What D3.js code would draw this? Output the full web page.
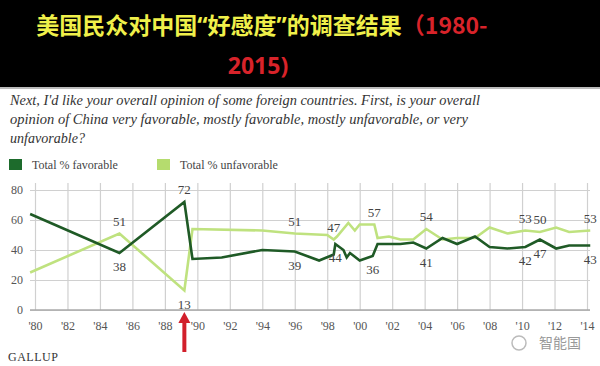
<!DOCTYPE html>
<html>
<head>
<meta charset="utf-8">
<script src="https://cdn.jsdelivr.net/npm/d3@7"></script>
<style>
  body { margin: 0; background: #fff; }
  text { font-family: "Liberation Serif", "DejaVu Serif", serif; }
</style>
</head>
<body>
<div id="main_div"></div>
<script>
// Gallup trend (year as decimal position on the axis)
var fav_years = [1979.7, 1985.2, 1989.2, 1989.7, 1991.5, 1994.0, 1996.0, 1997.5, 1998.4, 1998.5, 1999.0, 1999.2, 1999.4, 2000.0, 2000.8, 2001.1, 2001.7, 2002.5, 2003.3, 2004.1, 2005.1, 2006.0, 2007.1, 2008.0, 2009.1, 2010.2, 2011.1, 2012.1, 2012.9, 2014.2];
var fav_values = [64, 38, 72, 34, 35, 40, 39, 33, 37, 44, 40, 35, 38, 33, 36, 44, 44, 44, 45, 41, 48, 44, 49, 42, 41, 42, 47, 41, 43, 43];
var unfav_years = [1979.7, 1985.2, 1989.2, 1989.7, 1994.0, 1996.0, 1998.0, 1998.4, 1998.6, 1999.3, 1999.7, 2000.0, 2000.9, 2001.1, 2001.8, 2002.5, 2003.3, 2004.1, 2005.1, 2006.0, 2007.1, 2008.0, 2009.1, 2010.2, 2011.1, 2012.1, 2012.9, 2014.2];
var unfav_values = [25, 51, 13, 54, 53, 51, 50, 47, 49, 58, 53, 57, 57, 48, 49, 47, 47, 54, 47, 48, 48, 55, 51, 53, 52, 55, 52, 53];
var x_ticks = [1980, 1982, 1984, 1986, 1988, 1990, 1992, 1994, 1996, 1998, 2000, 2002, 2004, 2006, 2008, 2010, 2012, 2014];
var y_ticks = [0, 20, 40, 60, 80];
var legend_names = ["Total % favorable", "Total % unfavorable"];
var question = ["Next, I'd like your overall opinion of some foreign countries. First, is your overall",
    "opinion of China very favorable, mostly favorable, mostly unfavorable, or very",
    "unfavorable?"];
// labels: series, index into that series, text, above/below
var labels = [
    {s: "u", i: 1, t: "51", pos: "up"}, {s: "f", i: 1, t: "38", pos: "down"},
    {s: "f", i: 2, t: "72", pos: "up"}, {s: "u", i: 2, t: "13", pos: "down"},
    {s: "u", i: 5, t: "51", pos: "up"}, {s: "f", i: 6, t: "39", pos: "down"},
    {s: "u", i: 7, t: "47", pos: "up"}, {s: "f", i: 9, t: "44", pos: "down"},
    {s: "u", i: 12, t: "57", pos: "up"}, {s: "f", i: 14, t: "36", pos: "down"},
    {s: "u", i: 17, t: "54", pos: "up"}, {s: "f", i: 19, t: "41", pos: "down"},
    {s: "u", i: 23, t: "53", pos: "up"}, {s: "u", i: 24, t: "50", pos: "up"},
    {s: "f", i: 25, t: "42", pos: "down"}, {s: "f", i: 26, t: "47", pos: "down"},
    {s: "u", i: 27, t: "53", pos: "up"}, {s: "f", i: 29, t: "43", pos: "down"}
];

var dark = "#1f5a26", light = "#bfe27f";

var fav = fav_years.map(function(y, i) { return {year: y, v: fav_values[i]}; });
var unfav = unfav_years.map(function(y, i) { return {year: y, v: unfav_values[i]}; });

var x_scale = d3.scaleLinear().domain([1980, 2014]).range([35, 587]);
var y_scale = d3.scaleLinear().domain([0, 80]).range([310, 190]);

var svg = d3.select("#main_div").append("svg").attr("width", 600).attr("height", 366);

// header band
svg.append("rect").attr("x", 0).attr("y", 0).attr("width", 600).attr("height", 87).attr("fill", "#000");
svg.append("rect").attr("x", 0).attr("y", 87).attr("width", 600).attr("height", 2).attr("fill", "#bbb");

var cjk = "'Noto Sans CJK SC', sans-serif";
var t1 = svg.append("text").attr("x", 262).attr("y", 34).attr("text-anchor", "middle")
    .style("font-family", cjk).style("font-weight", "bold").style("font-size", "23px");
t1.append("tspan").attr("fill", "#f0f04a").text("美国民众对中国");
t1.append("tspan").attr("fill", "#f0f04a").style("font-family", "'Noto Sans', sans-serif").text("“");
t1.append("tspan").attr("fill", "#f0f04a").text("好感度");
t1.append("tspan").attr("fill", "#f0f04a").style("font-family", "'Noto Sans', sans-serif").text("”");
t1.append("tspan").attr("fill", "#f0f04a").text("的调查结果");
t1.append("tspan").attr("fill", "#d8232a").text("（1980-");
svg.append("text").attr("x", 258).attr("y", 74).attr("text-anchor", "middle")
    .style("font-family", "'Noto Sans', sans-serif").style("font-weight", "bold").style("font-size", "23px")
    .attr("fill", "#d8232a").text("2015)");

// question
var q_widths = [470, 458, 75];
svg.selectAll(".q").data(question).enter().append("text")
    .attr("class", "q")
    .attr("x", 10)
    .attr("y", function(d, i) { return 105 + i * 19; })
    .attr("textLength", function(d, i) { return q_widths[i]; })
    .attr("lengthAdjust", "spacingAndGlyphs")
    .style("font-style", "italic").style("font-size", "15px").attr("fill", "#333")
    .text(function(d) { return d; });

// legend
var lg = svg.selectAll(".lg").data(legend_names).enter().append("g")
    .attr("transform", function(d, i) { return "translate(" + (9 + i * 148) + ",159)"; });
lg.append("rect").attr("width", 13).attr("height", 11).attr("fill", function(d, i) { return i == 0 ? "#1d6b2c" : "#b5dc6e"; });
lg.append("text").attr("x", 23).attr("y", 10).style("font-size", "12px").attr("fill", "#444").text(function(d) { return d; });

// grid + axes
var g_y = svg.append("g").attr("transform", "translate(30,0)")
    .call(d3.axisLeft(y_scale).tickValues(y_ticks).tickSize(-560).tickPadding(7));
g_y.select(".domain").remove();
g_y.selectAll("line").attr("stroke", "#d0d0d0").attr("stroke-width", 1.2);
g_y.selectAll("text").style("font-size", "12px").attr("fill", "#555").style("font-family", "'Liberation Serif', serif");

var g_x = svg.append("g").attr("transform", "translate(0,310)")
    .call(d3.axisBottom(x_scale).tickValues(x_ticks).tickSize(-127).tickPadding(11)
        .tickFormat(function(d) { return "'" + String(d).slice(2); }));
g_x.select(".domain").remove();
g_x.selectAll("line").attr("stroke", "#d0d0d0").attr("stroke-width", 1.2);
g_x.selectAll("text").style("font-size", "12px").attr("fill", "#555").style("font-family", "'Liberation Serif', serif");

svg.append("line").attr("x1", 30).attr("x2", 590).attr("y1", y_scale(0)).attr("y2", y_scale(0))
    .attr("stroke", "#aaa").attr("stroke-width", 1.5);

// lines
var line = d3.line().x(function(d) { return x_scale(d.year); }).y(function(d) { return y_scale(d.v); });
svg.append("path").datum(unfav).attr("d", line).attr("fill", "none").attr("stroke", light).attr("stroke-width", 2.6);
svg.append("path").datum(fav).attr("d", line).attr("fill", "none").attr("stroke", dark).attr("stroke-width", 2.6);

// value labels
svg.selectAll(".lbl").data(labels).enter().append("text")
    .attr("class", "lbl")
    .attr("x", function(d) { var p = d.s == "f" ? fav[d.i] : unfav[d.i]; return x_scale(p.year); })
    .attr("y", function(d) { var p = d.s == "f" ? fav[d.i] : unfav[d.i]; return y_scale(p.v) + (d.pos == "up" ? -8 : 18); })
    .attr("text-anchor", "middle").style("font-size", "13px").attr("fill", "#444")
    .text(function(d) { return d.t; });

// red arrow under 1989
var ax = x_scale(1989.2);
svg.append("line").attr("x1", ax).attr("x2", ax).attr("y1", 352).attr("y2", 322)
    .attr("stroke", "#d21f2b").attr("stroke-width", 4);
svg.append("path").attr("d", "M" + (ax - 6) + ",323 L" + ax + ",312 L" + (ax + 6) + ",323 Z").attr("fill", "#d21f2b");

// footer
svg.append("text").attr("x", 8).attr("y", 361).style("font-size", "12px").style("letter-spacing", "0.5px")
    .attr("fill", "#333").text("GALLUP");
svg.append("text").attr("x", 581).attr("y", 348).attr("text-anchor", "end")
    .style("font-family", cjk).style("font-size", "14px").attr("fill", "#999").text("智能国");
svg.append("circle").attr("cx", 519).attr("cy", 343).attr("r", 7).attr("fill", "none").attr("stroke", "#bbb").attr("stroke-width", 1.5);
</script>
</body>
</html>
